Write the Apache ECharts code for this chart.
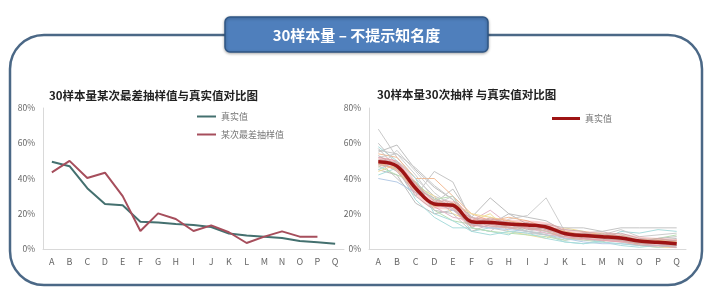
<!DOCTYPE html>
<html><head><meta charset="utf-8">
<script src="https://cdn.jsdelivr.net/npm/echarts@6/dist/echarts.min.js"></script>
<style>html,body{margin:0;padding:0;background:#fff}#c{width:720px;height:297px}</style>
</head><body><div id="c"></div>
<script>
const categories = ['A','B','C','D','E','F','G','H','I','J','K','L','M','N','O','P','Q'];
const yTicks = [0, 20, 40, 60, 80];
const bannerText = '30样本量 – 不提示知名度';
const leftTitle = '30样本量某次最差抽样值与真实值对比图';
const rightTitle = '30样本量30次抽样 与真实值对比图';
const trueValues = [49.5, 47, 34.5, 25.5, 24.8, 15.5, 15, 14.2, 13.6, 12.5, 8.8, 7.6, 7, 6.3, 4.5, 3.8, 3];
const worstSample = [43.5, 50, 40.3, 43.3, 30, 10.2, 20.2, 17, 10.2, 13.4, 9.5, 3.4, 7, 10, 7, 7, null];
const sample01 = [68,52,40,30,26,14,12,10,9,8,5,6,5,4,3,2,2];
const sample02 = [55,59,45,35,28,12,18,14,12,10,6,7,6,5,3,3,2];
const sample03 = [50,40,30,44,38,16,14,12,10,9,8,6,7,6,4,5,3];
const sample04 = [45,42,26,20,22,18,29,20,14,12,8,8,7,6,4,3,2];
const sample05 = [52,54,42,28,24,12,10,17,19,29,10,7,6,5,3,4,3];
const sample06 = [48,46,38,22,16,14,16,12,12,10,6,5,4,8,5,6,4];
const sample07 = [58,50,34,24,26,10,12,14,10,8,4,3,5,10,9,11,10];
const sample08 = [44,48,36,30,20,16,20,10,8,6,12,10,8,7,2,1,1];
const sample09 = [50,44,32,26,34,18,14,16,12,14,12,12,10,12,12,12,12];
const sample10 = [42,46,28,18,12,12,10,8,14,11,9,6,4,2,1,2,3];
const sample11 = [54,52,40,40,30,20,16,18,16,12,8,9,8,6,4,4,5];
const sample12 = [46,56,44,32,24,14,12,12,10,12,6,5,6,4,2,2,1];
const sample13 = [60,48,30,22,20,10,14,20,18,16,10,8,8,9,6,5,6];
const sample14 = [47,42,38,28,30,12,10,9,8,7,5,7,9,5,3,6,8];
const sample15 = [52,50,36,24,18,16,22,14,12,9,7,6,5,4,5,3,4];
const sample16 = [40,38,32,26,22,14,12,11,10,8,6,4,3,3,2,2,1];
const sample17 = [56,54,46,36,28,18,16,12,10,8,7,9,10,7,4,3,2];
const sample18 = [49,45,33,24,26,20,18,16,14,13,10,8,7,6,5,5,4];
const sample19 = [53,47,37,27,23,13,15,13,15,11,8,9,6,5,3,4,5];
const sample20 = [45,50,40,20,16,10,8,10,9,6,4,3,4,3,2,1,2];
const sample21 = [51,49,35,25,30,16,13,12,13,10,9,7,8,11,7,8,9];
const sample22 = [57,46,34,29,24,15,17,15,11,12,11,10,6,5,4,6,7];

const samples = [sample01,sample02,sample03,sample04,sample05,sample06,sample07,sample08,sample09,sample10,sample11,sample12,sample13,sample14,sample15,sample16,sample17,sample18,sample19,sample20,sample21,sample22];
const sampleColors = ['#c9c9c9','#bfbfbf','#c6c6c6','#bdbdbd','#cfcfcf','#b9dfb4','#a9dcdc','#f1dc98','#c4c4c4','#a9dcdc','#f3bc96','#d0d0d0','#c2c2c2','#b9dfb4','#e3b6c8','#b6cbe6','#c8c8c8','#f1dc98','#bcbcbc','#a9dcdc','#cccccc','#c0c0c0'];

const font = '"Noto Sans CJK SC", "Noto Sans", sans-serif';
const chart = echarts.init(document.getElementById('c'), null, {renderer: 'canvas'});

function xAxis(gi){
  return {type:'category', gridIndex:gi, data:categories, boundaryGap:true,
    axisLine:{lineStyle:{color:'#d9d9d9'}}, axisTick:{show:false},
    axisLabel:{color:'#666', fontSize:9, margin:8, fontFamily:font}};
}
function yAxis(gi){
  return {type:'value', gridIndex:gi, min:yTicks[0], max:yTicks[yTicks.length-1], interval:20,
    axisLine:{show:true, lineStyle:{color:'#d9d9d9'}}, axisTick:{show:false}, splitLine:{show:false},
    axisLabel:{color:'#666', fontSize:8.5, margin:8, formatter:'{value}%', fontFamily:font}};
}

const series = [
  {name:'真实值', type:'line', xAxisIndex:0, yAxisIndex:0, data:trueValues, symbol:'none',
   lineStyle:{color:'#44706f', width:2}, itemStyle:{color:'#44706f'}, z:3},
  {name:'某次最差抽样值', type:'line', xAxisIndex:0, yAxisIndex:0, data:worstSample, symbol:'none',
   lineStyle:{color:'#a64e5c', width:2}, itemStyle:{color:'#a64e5c'}, z:4}
];
samples.forEach((s,i)=>{
  series.push({name:'抽样'+(i+1), type:'line', xAxisIndex:1, yAxisIndex:1, data:s, symbol:'none',
    lineStyle:{color:sampleColors[i], width:1}, silent:true, z:2});
});
series.push({name:'真实值区间', type:'line', xAxisIndex:1, yAxisIndex:1, data:trueValues, symbol:'none', smooth:0.35,
  lineStyle:{color:'rgba(240,130,130,0.35)', width:9}, silent:true, z:3});
series.push({name:'真实值', type:'line', xAxisIndex:1, yAxisIndex:1, data:trueValues, symbol:'none', smooth:0.35,
  lineStyle:{color:'#9e1414', width:3.5}, itemStyle:{color:'#9e1414'}, z:5});

chart.setOption({
  animation:false,
  backgroundColor:'#fff',
  textStyle:{fontFamily:font},
  title:[
    {text:leftTitle, left:44, top:85, textStyle:{fontSize:11.5, fontWeight:'bold', color:'#222', fontFamily:font}},
    {text:rightTitle, left:372, top:84, textStyle:{fontSize:11.5, fontWeight:'bold', color:'#222', fontFamily:font}}
  ],
  legend:[
    {orient:'vertical', left:192, top:107, itemWidth:19, itemHeight:2, itemGap:9, icon:'rect',
     data:['真实值','某次最差抽样值'], textStyle:{fontSize:9, color:'#777', fontFamily:font}},
    {orient:'horizontal', left:547, top:109, itemWidth:28, itemHeight:3, icon:'rect',
     data:[{name:'真实值', itemStyle:{color:'#9e1414'}}],
     textStyle:{fontSize:9, color:'#777', fontFamily:font}}
  ],
  grid:[
    {left:43, top:108, width:301, height:141},
    {left:369, top:108, width:317, height:141}
  ],
  xAxis:[xAxis(0), xAxis(1)],
  yAxis:[yAxis(0), yAxis(1)],
  series:series,
  graphic:[
    {type:'rect', z:-1, shape:{x:10, y:35, width:692, height:250, r:34},
     style:{fill:'none', stroke:'#4b6886', lineWidth:2.5}},
    {type:'rect', z:10, shape:{x:225, y:17, width:263, height:35, r:5},
     style:{fill:'#4f7fbc', stroke:'#2f5684', lineWidth:1.5, shadowBlur:3, shadowColor:'rgba(0,0,0,0.3)', shadowOffsetY:1}},
    {type:'text', z:11, x:356.5, y:35,
     style:{text:bannerText, fill:'#fff', font:'bold 15px "Noto Sans CJK SC", sans-serif', align:'center', verticalAlign:'middle'}}
  ]
});
</script></body></html>
